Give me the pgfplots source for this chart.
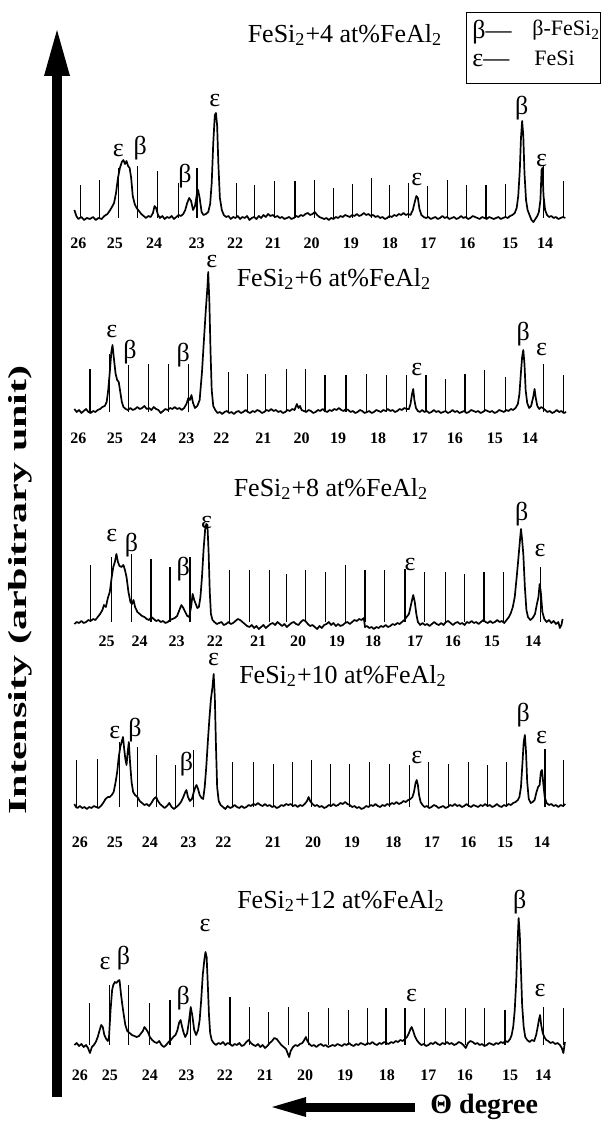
\documentclass[border=0pt]{standalone}
\usepackage{fontspec}
\setmainfont{Liberation Serif}
\usepackage{graphicx}
\usepackage{pgfplots}
\pgfplotsset{compat=1.18}
\newcommand\ticfont{\fontsize{8}{9}\selectfont\bfseries}
\tikzset{lab/.style={font=\fontsize{13}{13}\selectfont, inner sep=0pt}}
\pgfplotsset{
  panel/.style={x=19.45pt, y=0.5pt, x dir=reverse, xmin=13.45, xmax=26.12, ymax=165,
    clip=false, axis line style={draw=none}, major tick length=0pt, ytick=\empty,
    xticklabel style={font=\ticfont}, anchor=center},
  trace/.style={black, line width=0.85pt, no marks, line join=round},
  spk/.style={black, line width=0.6pt, ycomb, no marks}
}
\begin{document}
\begin{tikzpicture}[x=0.5pt,y=-0.5pt]
\path[use as bounding box] (0,0) rectangle (609,1122);

% ---------------- Panel 1 ----------------
\begin{axis}[panel, ymin=-13, at={(160.025pt,-71pt)},
  xtick={26.0,25.06,24.05,22.96,21.97,20.99,20.0,18.99,17.99,17.0,16.0,14.90,14.0},
  xticklabels={26,25,24,23,22,21,20,19,18,17,16,15,14}]
\addplot[trace] coordinates {(26.10,8)(26.05,2)(26.00,-1)(25.92,1)(25.85,-2)(25.78,0)(25.70,-1)(25.62,1)(25.55,-2)(25.48,0)(25.40,-1)(25.33,2)(25.25,4)(25.18,8)(25.12,12)(25.08,15)(25.03,25)(24.98,40)(24.93,50)(24.88,56)(24.84,58)(24.80,54)(24.76,57)(24.72,52)(24.68,50)(24.64,40)(24.60,22)(24.55,14)(24.50,10)(24.44,7)(24.38,4)(24.32,2)(24.26,0)(24.20,2)(24.14,1)(24.08,5)(24.04,12)(24.00,10)(23.95,3)(23.90,0)(23.84,2)(23.78,-1)(23.72,1)(23.66,0)(23.60,2)(23.54,-1)(23.48,1)(23.42,3)(23.36,2)(23.30,4)(23.25,8)(23.20,15)(23.15,20)(23.10,17)(23.05,8)(23.00,12)(22.95,24)(22.92,28)(22.88,20)(22.83,6)(22.78,3)(22.72,4)(22.66,6)(22.61,14)(22.57,35)(22.53,75)(22.49,103)(22.46,105)(22.43,92)(22.40,55)(22.36,20)(22.31,8)(22.26,3)(22.20,1)(22.14,2)(22.08,-1)(22.02,1)(21.96,0)(21.90,2)(21.84,-1)(21.78,1)(21.72,0)(21.66,2)(21.60,-2)(21.54,0)(21.48,1)(21.42,-1)(21.36,2)(21.30,0)(21.24,3)(21.18,1)(21.12,4)(21.06,2)(21.00,3)(20.94,1)(20.88,2)(20.82,0)(20.76,1)(20.70,-1)(20.64,0)(20.58,1)(20.52,-1)(20.46,0)(20.40,2)(20.34,1)(20.28,3)(20.22,2)(20.16,4)(20.10,5)(20.04,3)(19.98,4)(19.92,6)(19.86,3)(19.80,1)(19.74,0)(19.68,-1)(19.62,0)(19.56,-2)(19.50,0)(19.44,-1)(19.38,1)(19.32,0)(19.26,2)(19.20,1)(19.14,3)(19.08,2)(19.02,1)(18.96,3)(18.90,2)(18.84,4)(18.78,2)(18.72,3)(18.66,5)(18.60,3)(18.54,4)(18.48,2)(18.42,3)(18.36,1)(18.30,2)(18.24,0)(18.18,1)(18.12,-1)(18.06,0)(18.00,2)(17.94,1)(17.88,3)(17.82,2)(17.76,4)(17.70,3)(17.64,5)(17.58,3)(17.52,4)(17.46,3)(17.40,8)(17.35,16)(17.31,22)(17.27,20)(17.23,9)(17.18,3)(17.12,1)(17.06,0)(17.00,1)(16.94,-1)(16.88,0)(16.82,1)(16.76,-1)(16.70,0)(16.64,2)(16.58,0)(16.52,1)(16.46,-1)(16.40,0)(16.34,1)(16.28,-1)(16.22,0)(16.16,2)(16.10,0)(16.04,1)(15.98,-1)(15.92,0)(15.86,2)(15.80,1)(15.74,0)(15.68,-1)(15.62,1)(15.56,0)(15.50,-1)(15.44,1)(15.38,0)(15.32,-1)(15.26,0)(15.20,1)(15.14,-1)(15.08,0)(15.02,1)(14.96,0)(14.90,2)(14.84,3)(14.78,5)(14.73,10)(14.69,22)(14.65,48)(14.62,80)(14.59,97)(14.56,82)(14.53,45)(14.49,18)(14.45,8)(14.40,3)(14.35,-2)(14.30,-4)(14.25,-1)(14.20,2)(14.16,6)(14.12,18)(14.09,48)(14.07,50)(14.04,22)(14.00,8)(13.95,3)(13.90,1)(13.84,2)(13.78,0)(13.72,1)(13.66,-1)(13.60,0)(13.54,1)(13.48,0)};
\addplot[spk] coordinates {(25.95,33)(25.46,38)(24.97,50)(24.48,52)(23.96,47)(23.43,35)(22.95,50)(21.94,35)(21.46,33)(20.96,37)(20.43,37)(19.92,38)(19.44,30)(18.95,34)(18.46,40)(18.00,33)(17.52,35)(17.02,32)(16.51,38)(16.02,33)(15.52,33)(15.02,34)(14.05,53)(13.53,37)};
\node[lab] at (axis cs:24.97,67) {ε};
\node[lab] at (axis cs:24.41,70) {β};
\node[lab] at (axis cs:23.26,42) {β};
\node[lab] at (axis cs:22.49,117) {ε};
\node[lab] at (axis cs:17.30,38) {ε};
\node[lab] at (axis cs:14.60,110) {β};
\node[lab] at (axis cs:14.09,57) {ε};
\end{axis}

% ---------------- Panel 2 ----------------
\begin{axis}[panel, ymin=-14, at={(160.025pt,-168.25pt)},
  xtick={26.0,25.06,24.2,23.22,22.32,21.24,20.26,19.32,18.29,17.22,16.32,15.29,14.39},
  xticklabels={26,25,24,23,22,21,20,19,18,17,16,15,14}]
\addplot[trace] coordinates {(26.10,3)(26.04,0)(25.98,2)(25.92,-1)(25.86,1)(25.80,3)(25.74,0)(25.68,-1)(25.62,1)(25.56,0)(25.50,2)(25.44,3)(25.38,5)(25.32,6)(25.27,10)(25.23,22)(25.19,40)(25.15,60)(25.12,67)(25.08,52)(25.04,38)(25.00,32)(24.96,30)(24.92,20)(24.88,10)(24.84,5)(24.78,3)(24.72,2)(24.66,4)(24.60,2)(24.54,3)(24.48,5)(24.42,3)(24.36,4)(24.30,6)(24.24,3)(24.18,4)(24.12,2)(24.06,5)(24.00,3)(23.94,2)(23.88,-1)(23.82,1)(23.76,3)(23.70,2)(23.64,4)(23.58,3)(23.52,5)(23.46,3)(23.40,4)(23.34,2)(23.28,4)(23.22,8)(23.17,14)(23.13,12)(23.09,17)(23.05,9)(23.00,4)(22.94,6)(22.88,12)(22.82,40)(22.77,72)(22.72,103)(22.68,125)(22.66,140)(22.63,110)(22.60,60)(22.57,22)(22.53,6)(22.48,2)(22.42,-1)(22.36,0)(22.30,-2)(22.24,0)(22.18,1)(22.12,-1)(22.06,0)(22.00,-2)(21.94,0)(21.88,1)(21.82,-1)(21.76,0)(21.70,2)(21.64,0)(21.58,-1)(21.52,1)(21.46,0)(21.40,2)(21.34,1)(21.28,-1)(21.22,0)(21.16,2)(21.10,1)(21.04,3)(20.98,1)(20.92,2)(20.86,0)(20.80,1)(20.74,-1)(20.68,0)(20.62,2)(20.56,1)(20.50,3)(20.44,2)(20.38,8)(20.34,4)(20.30,6)(20.26,2)(20.20,1)(20.14,0)(20.08,2)(20.02,1)(19.96,-1)(19.90,0)(19.84,2)(19.78,1)(19.72,3)(19.66,1)(19.60,0)(19.54,2)(19.48,1)(19.42,3)(19.36,2)(19.30,4)(19.24,2)(19.18,1)(19.12,3)(19.06,2)(19.00,0)(18.94,1)(18.88,-1)(18.82,0)(18.76,2)(18.70,1)(18.64,-1)(18.58,0)(18.52,1)(18.46,-1)(18.40,0)(18.34,2)(18.28,1)(18.22,0)(18.16,2)(18.10,1)(18.04,3)(17.98,1)(17.92,2)(17.86,0)(17.80,1)(17.74,3)(17.68,2)(17.62,4)(17.56,3)(17.50,3)(17.46,8)(17.42,18)(17.39,23)(17.36,12)(17.32,4)(17.27,1)(17.22,0)(17.16,2)(17.10,0)(17.04,1)(16.98,-1)(16.92,0)(16.86,2)(16.80,0)(16.74,1)(16.68,-1)(16.62,0)(16.56,1)(16.50,-1)(16.44,0)(16.38,2)(16.32,0)(16.26,1)(16.20,-1)(16.14,0)(16.08,1)(16.02,-1)(15.96,0)(15.90,2)(15.84,1)(15.78,0)(15.72,1)(15.66,-1)(15.60,0)(15.54,2)(15.48,1)(15.42,0)(15.36,1)(15.30,-1)(15.24,0)(15.18,2)(15.12,1)(15.06,0)(15.00,2)(14.94,1)(14.88,3)(14.82,2)(14.76,4)(14.70,8)(14.66,18)(14.62,40)(14.59,55)(14.56,62)(14.53,48)(14.50,22)(14.46,9)(14.41,4)(14.36,6)(14.31,14)(14.27,23)(14.24,14)(14.20,6)(14.15,3)(14.10,5)(14.06,4)(14.00,2)(13.94,0)(13.88,1)(13.82,-1)(13.76,0)(13.70,2)(13.64,0)(13.58,1)(13.52,-1)(13.46,0)};
\addplot[spk] coordinates {(25.70,43)(25.19,58)(24.71,47)(24.20,48)(23.69,48)(23.17,48)(22.14,40)(21.66,38)(21.18,38)(20.64,43)(20.15,43)(19.66,37)(19.12,37)(18.59,38)(18.07,37)(17.56,37)(17.06,37)(16.57,33)(16.06,38)(15.55,42)(15.01,35)(14.05,48)(13.53,37)};
\node[lab] at (axis cs:25.14,80) {ε};
\node[lab] at (axis cs:24.67,60) {β};
\node[lab] at (axis cs:23.30,57) {β};
\node[lab] at (axis cs:22.57,150) {ε};
\node[lab] at (axis cs:17.30,42) {ε};
\node[lab] at (axis cs:14.56,78) {β};
\node[lab] at (axis cs:14.09,62) {ε};
\end{axis}

% ---------------- Panel 3 ----------------
\begin{axis}[panel, ymin=-7, at={(160.025pt,-271.5pt)},
  xtick={25.27,24.42,23.47,22.49,21.38,20.35,19.35,18.42,17.34,16.37,15.37,14.31},
  xticklabels={25,24,23,22,21,20,19,18,17,16,15,14}]
\addplot[trace] coordinates {(26.10,-2)(26.04,0)(25.98,-1)(25.92,1)(25.86,-1)(25.80,0)(25.74,2)(25.68,1)(25.62,3)(25.56,2)(25.50,5)(25.44,8)(25.38,12)(25.34,17)(25.29,15)(25.24,24)(25.19,30)(25.14,45)(25.10,55)(25.06,60)(25.02,68)(24.98,60)(24.94,56)(24.89,55)(24.84,57)(24.80,52)(24.76,45)(24.71,30)(24.66,20)(24.62,18)(24.58,22)(24.54,15)(24.48,10)(24.42,8)(24.36,6)(24.30,5)(24.24,3)(24.18,2)(24.12,5)(24.06,3)(24.00,1)(23.94,2)(23.88,0)(23.82,1)(23.76,-1)(23.70,0)(23.64,2)(23.58,3)(23.52,4)(23.46,6)(23.40,12)(23.35,17)(23.30,14)(23.25,10)(23.20,6)(23.15,5)(23.10,15)(23.06,28)(23.02,22)(22.98,18)(22.94,14)(22.90,15)(22.86,25)(22.82,45)(22.78,72)(22.74,92)(22.71,98)(22.68,97)(22.65,70)(22.62,30)(22.59,8)(22.55,2)(22.50,0)(22.44,-2)(22.38,-1)(22.32,0)(22.26,-3)(22.20,-2)(22.14,0)(22.08,-2)(22.02,-1)(21.96,1)(21.90,3)(21.84,2)(21.78,0)(21.72,-2)(21.66,-4)(21.60,-5)(21.54,-3)(21.48,-6)(21.42,-4)(21.36,-7)(21.30,-5)(21.24,-3)(21.18,-6)(21.12,-4)(21.06,-2)(21.00,-1)(20.94,-3)(20.88,0)(20.82,-2)(20.76,-4)(20.70,-2)(20.64,-5)(20.58,-3)(20.52,-1)(20.46,0)(20.40,-2)(20.34,-3)(20.28,0)(20.22,2)(20.16,1)(20.10,-2)(20.04,-4)(19.98,-3)(19.92,-5)(19.86,-7)(19.80,-4)(19.74,-6)(19.68,-3)(19.62,-2)(19.56,0)(19.50,-3)(19.44,-1)(19.38,-4)(19.32,-2)(19.26,-4)(19.20,-3)(19.14,-1)(19.08,0)(19.02,-2)(18.96,0)(18.90,2)(18.84,1)(18.78,3)(18.72,2)(18.66,4)(18.63,-5)(18.58,-4)(18.52,-6)(18.46,-5)(18.40,-7)(18.34,-5)(18.28,-6)(18.22,-4)(18.16,-5)(18.10,-3)(18.04,-5)(17.98,-4)(17.92,-2)(17.86,-3)(17.80,-1)(17.74,-2)(17.68,0)(17.62,2)(17.56,5)(17.50,8)(17.46,15)(17.42,22)(17.39,27)(17.35,20)(17.31,8)(17.27,0)(17.21,-3)(17.15,-1)(17.09,-3)(17.03,-2)(16.97,-4)(16.91,-2)(16.85,0)(16.79,-2)(16.73,-3)(16.67,-1)(16.61,-3)(16.55,0)(16.49,1)(16.43,-1)(16.37,-3)(16.31,-1)(16.25,0)(16.19,-2)(16.13,-1)(16.07,-3)(16.01,0)(15.95,-1)(15.89,1)(15.83,-1)(15.77,0)(15.71,-2)(15.65,0)(15.59,2)(15.53,0)(15.47,-1)(15.41,1)(15.35,-1)(15.29,0)(15.23,2)(15.17,0)(15.11,1)(15.05,-1)(14.99,2)(14.93,5)(14.88,9)(14.83,15)(14.78,25)(14.73,45)(14.69,62)(14.65,80)(14.62,93)(14.59,82)(14.56,68)(14.52,35)(14.48,12)(14.44,5)(14.38,2)(14.32,4)(14.26,8)(14.21,18)(14.17,25)(14.14,38)(14.11,30)(14.07,10)(14.02,3)(13.96,0)(13.90,2)(13.84,-1)(13.78,1)(13.72,-2)(13.66,0)(13.62,-6)(13.58,-3)(13.55,3)};
\addplot[spk] coordinates {(25.68,57)(25.14,65)(24.63,68)(24.13,63)(23.64,55)(23.13,65)(22.12,52)(21.60,52)(21.09,52)(20.64,48)(20.15,52)(19.64,50)(19.13,57)(18.63,52)(18.12,52)(17.60,53)(17.09,50)(16.57,50)(16.08,48)(15.57,50)(15.07,50)(14.11,55)};
\node[lab] at (axis cs:25.14,87) {ε};
\node[lab] at (axis cs:24.63,77) {β};
\node[lab] at (axis cs:23.30,53) {β};
\node[lab] at (axis cs:22.70,100) {ε};
\node[lab] at (axis cs:17.47,58) {ε};
\node[lab] at (axis cs:14.60,108) {β};
\node[lab] at (axis cs:14.13,72) {ε};
\end{axis}

% ---------------- Panel 4 ----------------
\begin{axis}[panel, ymin=-23, at={(160.025pt,-368pt)},
  xtick={25.96,25.06,24.16,23.17,22.27,20.99,19.96,18.97,17.9,16.91,15.97,15.03,14.08},
  xticklabels={26,25,24,23,22,21,20,19,18,17,16,15,14}]
\addplot[trace] coordinates {(26.10,3)(26.06,0)(26.02,-1)(25.96,1)(25.90,-1)(25.84,0)(25.78,-2)(25.72,0)(25.66,-1)(25.60,1)(25.54,0)(25.48,-1)(25.42,1)(25.36,4)(25.30,8)(25.24,10)(25.19,10)(25.14,12)(25.09,15)(25.04,25)(25.00,35)(24.96,50)(24.92,60)(24.88,66)(24.85,70)(24.82,58)(24.79,48)(24.76,42)(24.73,55)(24.70,65)(24.67,45)(24.63,25)(24.59,15)(24.54,12)(24.48,10)(24.42,6)(24.36,4)(24.30,2)(24.24,3)(24.18,1)(24.12,4)(24.06,8)(24.00,10)(23.95,6)(23.90,3)(23.84,1)(23.78,-1)(23.72,1)(23.66,4)(23.60,0)(23.54,-2)(23.48,0)(23.42,2)(23.36,5)(23.30,10)(23.25,15)(23.22,17)(23.18,10)(23.13,6)(23.08,8)(23.03,15)(22.99,20)(22.96,22)(22.92,18)(22.88,12)(22.83,9)(22.79,8)(22.75,20)(22.71,40)(22.67,65)(22.63,88)(22.59,108)(22.55,120)(22.52,133)(22.49,110)(22.46,60)(22.43,20)(22.39,6)(22.34,2)(22.28,0)(22.22,-2)(22.16,1)(22.10,-1)(22.04,0)(21.98,2)(21.92,0)(21.86,-1)(21.80,1)(21.74,-1)(21.68,0)(21.62,2)(21.56,1)(21.50,3)(21.44,2)(21.38,4)(21.32,2)(21.26,1)(21.20,3)(21.14,1)(21.08,2)(21.02,0)(20.96,1)(20.90,-1)(20.84,0)(20.78,2)(20.72,1)(20.66,3)(20.60,2)(20.54,3)(20.48,1)(20.42,2)(20.36,0)(20.30,2)(20.24,1)(20.18,3)(20.12,6)(20.08,10)(20.04,6)(19.98,3)(19.92,1)(19.86,2)(19.80,0)(19.74,1)(19.68,-1)(19.62,0)(19.56,2)(19.50,1)(19.44,3)(19.38,1)(19.32,2)(19.26,4)(19.20,3)(19.14,5)(19.08,3)(19.02,2)(18.96,0)(18.90,1)(18.84,-1)(18.78,0)(18.72,-2)(18.66,-1)(18.60,1)(18.54,0)(18.48,2)(18.42,1)(18.36,3)(18.30,1)(18.24,0)(18.18,2)(18.12,1)(18.06,3)(18.00,2)(17.94,4)(17.88,3)(17.82,5)(17.76,3)(17.70,4)(17.64,6)(17.58,5)(17.52,7)(17.46,8)(17.41,10)(17.37,15)(17.33,24)(17.30,27)(17.27,22)(17.24,12)(17.20,5)(17.15,2)(17.10,0)(17.04,1)(16.98,-1)(16.92,0)(16.86,2)(16.80,1)(16.74,-1)(16.68,0)(16.62,1)(16.56,-1)(16.50,0)(16.44,2)(16.38,1)(16.32,3)(16.26,1)(16.20,2)(16.14,0)(16.08,1)(16.02,3)(15.96,1)(15.90,0)(15.84,2)(15.78,1)(15.72,0)(15.66,2)(15.60,1)(15.54,3)(15.48,1)(15.42,2)(15.36,0)(15.30,1)(15.24,3)(15.18,1)(15.12,0)(15.06,2)(15.00,1)(14.94,3)(14.88,2)(14.82,4)(14.76,5)(14.70,7)(14.66,10)(14.62,20)(14.58,45)(14.55,65)(14.52,72)(14.49,55)(14.46,25)(14.42,8)(14.37,4)(14.32,5)(14.27,7)(14.22,15)(14.18,20)(14.14,22)(14.11,35)(14.08,37)(14.05,25)(14.01,10)(13.96,4)(13.90,2)(13.84,3)(13.78,1)(13.72,2)(13.66,0)(13.60,2)(13.54,1)(13.48,3)};
\addplot[spk] coordinates {(26.04,47)(25.51,48)(24.95,65)(24.48,60)(23.99,52)(23.51,42)(23.04,57)(22.03,45)(21.50,45)(20.99,43)(20.50,45)(20.00,47)(19.51,43)(19.02,43)(18.52,45)(18.00,43)(17.49,42)(17.00,45)(16.49,43)(15.97,45)(15.48,42)(14.99,45)(14.00,58)(13.53,47)};
\node[lab] at (axis cs:25.06,75) {ε};
\node[lab] at (axis cs:24.54,77) {β};
\node[lab] at (axis cs:23.22,43) {β};
\node[lab] at (axis cs:22.52,148) {ε};
\node[lab] at (axis cs:17.30,50) {ε};
\node[lab] at (axis cs:14.56,92) {β};
\node[lab] at (axis cs:14.09,70) {ε};
\end{axis}

% ---------------- Panel 5 ----------------
\begin{axis}[panel, ymin=-18, at={(160.025pt,-485.75pt)},
  xtick={25.96,25.19,24.16,23.22,22.23,21.2,20.17,19.14,18.07,17.0,16.06,14.9,14.05},
  xticklabels={26,25,24,23,22,21,20,19,18,17,16,15,14}]
\addplot[trace] coordinates {(26.10,0)(26.04,2)(25.98,-1)(25.92,1)(25.86,-2)(25.80,0)(25.75,-3)(25.70,-8)(25.65,-2)(25.60,0)(25.55,3)(25.50,8)(25.45,15)(25.41,20)(25.37,18)(25.33,10)(25.28,6)(25.24,4)(25.21,8)(25.17,35)(25.13,55)(25.10,60)(25.06,63)(25.02,62)(24.98,64)(24.94,65)(24.90,50)(24.86,38)(24.83,30)(24.79,20)(24.74,14)(24.68,12)(24.62,10)(24.56,9)(24.50,8)(24.44,9)(24.38,12)(24.34,14)(24.30,18)(24.26,16)(24.21,13)(24.16,8)(24.10,5)(24.04,3)(23.98,2)(23.92,4)(23.86,0)(23.80,-2)(23.74,0)(23.68,3)(23.62,5)(23.56,8)(23.50,10)(23.45,15)(23.41,22)(23.37,25)(23.33,18)(23.29,12)(23.25,8)(23.20,12)(23.15,25)(23.11,38)(23.07,30)(23.02,15)(22.97,10)(22.92,15)(22.88,25)(22.84,45)(22.80,70)(22.76,85)(22.73,93)(22.70,88)(22.67,60)(22.64,30)(22.61,12)(22.57,5)(22.52,2)(22.46,0)(22.40,2)(22.34,1)(22.28,3)(22.22,0)(22.16,2)(22.10,1)(22.04,-1)(21.98,1)(21.92,0)(21.86,2)(21.80,-1)(21.74,0)(21.68,3)(21.62,5)(21.56,2)(21.50,0)(21.44,-1)(21.38,1)(21.32,-2)(21.26,0)(21.20,-3)(21.14,-1)(21.08,2)(21.02,4)(20.96,7)(20.90,6)(20.84,3)(20.78,0)(20.72,-2)(20.66,-4)(20.62,-8)(20.58,-12)(20.54,-6)(20.48,-2)(20.42,0)(20.36,-1)(20.30,1)(20.24,2)(20.19,5)(20.15,8)(20.11,4)(20.06,1)(20.00,-1)(19.94,0)(19.88,-2)(19.82,0)(19.76,1)(19.70,-1)(19.64,0)(19.58,-2)(19.52,-1)(19.46,0)(19.40,-1)(19.34,1)(19.28,0)(19.22,-1)(19.16,1)(19.10,0)(19.04,2)(18.98,0)(18.92,-1)(18.86,1)(18.80,0)(18.74,2)(18.68,1)(18.62,0)(18.56,2)(18.50,1)(18.44,3)(18.38,1)(18.32,0)(18.26,2)(18.20,1)(18.14,3)(18.08,2)(18.02,1)(17.96,3)(17.90,2)(17.84,4)(17.78,3)(17.72,5)(17.66,4)(17.60,6)(17.55,8)(17.50,12)(17.46,16)(17.43,18)(17.39,14)(17.35,9)(17.30,5)(17.24,2)(17.18,0)(17.12,1)(17.06,-1)(17.00,0)(16.94,2)(16.88,1)(16.82,3)(16.76,1)(16.70,0)(16.64,2)(16.58,1)(16.52,3)(16.46,1)(16.40,2)(16.34,0)(16.28,1)(16.22,3)(16.16,2)(16.10,0)(16.04,-3)(15.98,2)(15.92,4)(15.86,3)(15.80,1)(15.74,2)(15.68,0)(15.62,1)(15.56,-1)(15.50,0)(15.44,2)(15.38,1)(15.32,0)(15.26,2)(15.20,1)(15.14,3)(15.08,2)(15.02,4)(14.96,3)(14.90,6)(14.86,10)(14.82,18)(14.78,35)(14.74,65)(14.71,100)(14.68,127)(14.65,110)(14.62,75)(14.59,40)(14.55,18)(14.51,8)(14.46,5)(14.40,3)(14.34,5)(14.28,4)(14.23,10)(14.19,18)(14.16,25)(14.13,30)(14.10,20)(14.06,12)(14.02,8)(13.97,5)(13.92,4)(13.86,2)(13.80,3)(13.74,1)(13.68,2)(13.62,0)(13.57,-3)(13.53,-8)(13.49,3)};
\addplot[spk] coordinates {(25.72,42)(25.19,60)(24.70,60)(24.16,42)(23.64,45)(23.11,38)(22.10,48)(21.60,38)(21.10,33)(20.59,38)(20.09,33)(19.57,37)(19.06,35)(18.57,37)(18.09,37)(17.60,37)(17.09,37)(16.57,37)(16.04,37)(15.55,37)(15.03,35)(14.05,38)(13.53,37)};
\node[lab] at (axis cs:25.31,82) {ε};
\node[lab] at (axis cs:24.84,87) {β};
\node[lab] at (axis cs:23.30,47) {β};
\node[lab] at (axis cs:22.74,120) {ε};
\node[lab] at (axis cs:17.43,50) {ε};
\node[lab] at (axis cs:14.65,143) {β};
\node[lab] at (axis cs:14.13,55) {ε};
\end{axis}

% ---------------- titles ----------------
\begin{scope}[every node/.style={font=\fontsize{13}{15}\selectfont}]
\node at (345,35) {FeSi\textsubscript{2}+4 at\%FeAl\textsubscript{2}};
\node at (334,279) {FeSi\textsubscript{2}+6 at\%FeAl\textsubscript{2}};
\node at (331,489) {FeSi\textsubscript{2}+8 at\%FeAl\textsubscript{2}};
\node at (343,676) {FeSi\textsubscript{2}+10 at\%FeAl\textsubscript{2}};
\node at (341,901) {FeSi\textsubscript{2}+12 at\%FeAl\textsubscript{2}};
\end{scope}

% ---------------- legend box ----------------
\draw[line width=0.45pt] (466,12) rectangle (600,83);
\node[anchor=base west, inner sep=0pt, font=\fontsize{13}{15}\selectfont] at (472,39) {β—};
\node[anchor=base west, inner sep=0pt, font=\fontsize{11}{13}\selectfont] at (532,36) {β-FeSi\textsubscript{2}};
\node[anchor=base west, inner sep=0pt, font=\fontsize{13}{15}\selectfont] at (472,67) {ε—};
\node[anchor=base west, inner sep=0pt, font=\fontsize{11}{13}\selectfont] at (534,66) {FeSi};

% ---------------- axis arrows and labels ----------------
\fill (52,1097) rectangle (62,72);
\fill (44,76) -- (57,30) -- (70,76) -- cycle;
\node[rotate=90, font=\fontsize{13}{15}\selectfont\bfseries] at (20,590) {\scalebox{1.62}[1]{Intensity (arbitrary unit)}};
\fill (300,1102.5) rectangle (415,1111.5);
\fill (306,1097) -- (272,1107) -- (306,1117) -- cycle;
\node[anchor=base west, inner sep=0pt, font=\fontsize{14}{16}\selectfont\bfseries] at (430,1113) {Θ degree};
\end{tikzpicture}
\end{document}
